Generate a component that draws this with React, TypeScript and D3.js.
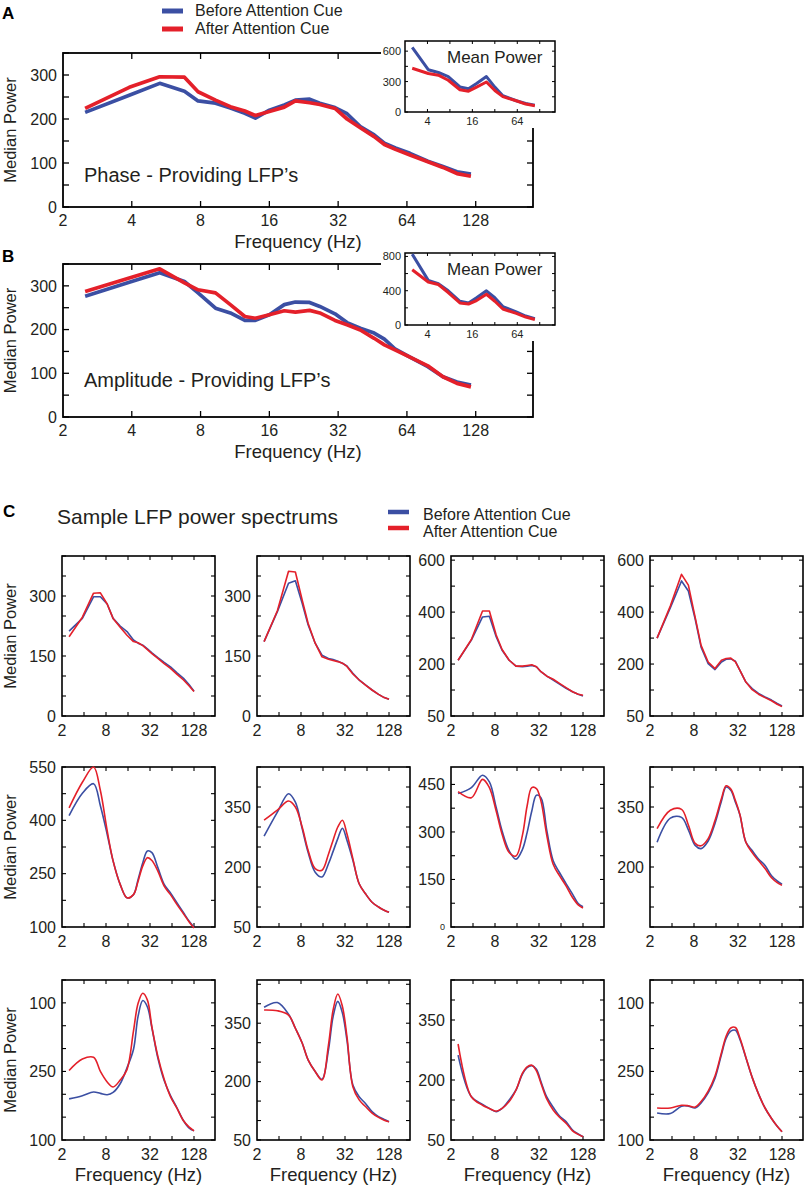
import React from 'react';
import * as d3 from 'd3';

const BLUE = '#3b4fa3';
const RED = '#e4202a';
const INK = '#231f20';
const FONT = '"Liberation Sans", Arial, Helvetica, sans-serif';

// ---------- Panels A / B (median power) ----------
const mainFreqs = [2.5, 3.9, 5.3, 6.8, 7.8, 9.3, 10.8, 12.5, 13.9, 16, 18.6, 20.8, 24, 26.6, 31, 35, 40, 46, 51, 57, 66, 79, 92, 106, 122];
const phaseBefore = [215, 254, 281, 263, 241, 236, 225, 213, 202, 220, 232, 243, 245, 236, 226, 212, 183, 164, 145, 134, 122, 104, 92, 80, 75];
const phaseAfter = [224, 272, 296, 295, 262, 243, 228, 218, 208, 217, 227, 241, 237, 233, 224, 200, 180, 160, 142, 131, 118, 103, 90, 76, 70];
const ampBefore = [276, 308, 330, 310, 284, 249, 238, 221, 221, 234, 257, 263, 262, 253, 236, 216, 203, 192, 178, 155, 137, 115, 92, 80, 73];
const ampAfter = [287, 318, 339, 307, 291, 284, 257, 230, 226, 234, 243, 240, 244, 238, 221, 211, 199, 180, 165, 153, 137, 117, 92, 77, 69];

// insets (mean power)
const insetFreqs = [2.5, 4.1, 5.6, 7.6, 10.9, 14.2, 18.2, 24.7, 32, 41, 62, 83, 110];
const phaseMeanBefore = [638, 417, 390, 349, 247, 230, 281, 349, 245, 161, 111, 84, 68];
const phaseMeanAfter = [431, 380, 363, 313, 219, 205, 245, 296, 212, 151, 111, 78, 61];
const ampMeanBefore = [827, 521, 481, 399, 277, 257, 318, 399, 318, 215, 154, 105, 73];
const ampMeanAfter = [644, 502, 472, 379, 257, 245, 285, 359, 277, 187, 135, 93, 65];

const mainTicksX = [2, 4, 8, 16, 32, 64, 128];
const mainTicksY = [0, 100, 200, 300];
const insetTicksX = [4, 16, 64];
const insetTicksYA = [0, 300, 600];
const insetTicksYB = [0, 400, 800];

// ---------- Panel C (sample spectra) ----------
const smallFreqs = [2.5, 3.8, 5.4, 6.7, 8.3, 10, 12.5, 15.5, 19, 22, 25.5, 29.5, 34, 41, 50, 61, 75, 92, 110, 128];
const sampleBefore: number[][] = [
  [212, 244, 298, 298, 280, 244, 225, 211, 190, 182, 177, 168, 158, 146, 134, 123, 108, 94, 78, 62],
  [186, 261, 332, 338, 282, 228, 182, 152, 144, 141, 137, 132, 125, 107, 90, 78, 65, 54, 46, 42],
  [211, 269, 336, 338, 279, 240, 211, 194, 192, 194, 196, 192, 178, 165, 154, 142, 130, 120, 113, 108],
  [275, 363, 440, 411, 330, 249, 201, 184, 206, 214, 215, 208, 182, 148, 129, 115, 105, 96, 86, 79],
  [413, 476, 503, 441, 361, 286, 220, 182, 191, 234, 281, 314, 309, 267, 220, 196, 168, 140, 116, 99],
  [277, 337, 383, 362, 296, 237, 187, 175, 208, 239, 271, 297, 267, 217, 158, 133, 112, 100, 92, 87],
  [421, 440, 479, 458, 377, 303, 240, 214, 245, 298, 366, 416, 408, 303, 209, 172, 137, 104, 74, 64],
  [262, 322, 324, 293, 254, 246, 265, 309, 365, 400, 392, 362, 330, 262, 241, 220, 204, 178, 165, 157],
  [190, 197, 205, 202, 199, 204, 223, 258, 298, 371, 405, 391, 345, 279, 230, 197, 170, 142, 126, 120],
  [391, 403, 373, 337, 299, 256, 226, 206, 281, 367, 406, 376, 307, 191, 161, 144, 123, 110, 103, 97],
  [262, 158, 139, 129, 121, 129, 150, 175, 215, 231, 236, 227, 196, 157, 132, 110, 96, 75, 65, 58],
  [159, 158, 174, 174, 170, 181, 203, 235, 287, 322, 338, 340, 320, 280, 237, 201, 170, 147, 130, 118],
];
const sampleAfter: number[][] = [
  [198, 247, 307, 308, 280, 244, 222, 202, 186, 183, 176, 166, 156, 144, 131, 119, 104, 90, 75, 61],
  [186, 263, 362, 360, 290, 232, 182, 148, 142, 139, 136, 132, 124, 105, 90, 77, 65, 54, 46, 42],
  [211, 271, 353, 353, 284, 242, 211, 194, 194, 196, 198, 192, 178, 165, 156, 144, 132, 120, 113, 110],
  [275, 368, 459, 428, 335, 254, 206, 187, 211, 216, 217, 206, 182, 148, 126, 113, 103, 94, 84, 77],
  [435, 507, 550, 484, 371, 286, 220, 182, 191, 229, 272, 295, 287, 257, 215, 191, 163, 137, 114, 97],
  [317, 342, 365, 350, 300, 242, 196, 192, 232, 267, 300, 317, 283, 221, 158, 133, 112, 100, 92, 87],
  [427, 408, 466, 440, 366, 293, 235, 224, 290, 382, 440, 437, 398, 288, 198, 162, 130, 93, 70, 60],
  [296, 342, 344, 305, 259, 253, 271, 316, 371, 403, 395, 366, 331, 262, 236, 216, 196, 173, 161, 154],
  [252, 277, 281, 250, 227, 216, 231, 254, 338, 399, 421, 406, 347, 283, 233, 195, 169, 142, 128, 120],
  [384, 382, 371, 337, 299, 256, 226, 204, 294, 384, 425, 393, 316, 187, 153, 136, 119, 108, 101, 97],
  [290, 158, 137, 129, 122, 129, 146, 175, 217, 233, 237, 223, 192, 152, 125, 107, 92, 73, 64, 58],
  [170, 170, 176, 175, 172, 184, 207, 240, 291, 327, 345, 346, 323, 281, 237, 201, 170, 147, 130, 118],
];
const sampleYDomains: [number, number][] = [
  [0, 400], [0, 400], [50, 512], [50, 512],
  [100, 550], [50, 450], [0, 505], [50, 450],
  [100, 450], [50, 461], [50, 450], [100, 450],
];
const sampleYTicks: number[][] = [
  [0, 150, 300], [0, 150, 300], [50, 200, 350, 500], [50, 200, 350, 500],
  [100, 250, 400, 550], [50, 200, 350], [0, 150, 300, 450], [200, 350],
  [100, 250, 400], [50, 200, 350], [50, 200, 350], [100, 250, 400],
];
const sampleYLabels: string[][] = [
  ['0', '150', '300'], ['0', '150', '300'], ['50', '200', '400', '600'], ['50', '200', '400', '600'],
  ['100', '250', '400', '550'], ['50', '200', '350'], ['0', '150', '300', '450'], ['200', '350'],
  ['100', '250', '100'], ['50', '200', '350'], ['50', '200', '350'], ['100', '250', '100'],
];
const sampleYMinor = [50, 50, 75, 75, 75, 50, 75, 50, 50, 50, 50, 50];
const smallTicksX = [2, 8, 32, 128];
const octaveTicks = [4, 8, 16, 32, 64, 128];

// ---------- layout ----------
const colLeft = [62, 257, 451, 650];
const rowTop = [556, 767, 980];
const SW = 153;
const SH = 160;

function minorTicks(domain: [number, number], first: number, step: number) {
  const start = first - Math.floor((first - domain[0]) / step + 1e-9) * step;
  return d3.range(start, domain[1] + 1e-6, step);
}

type MainProps = {
  top: number; bottom: number; before: number[]; after: number[];
  meanBefore: number[]; meanAfter: number[];
  insetTop: number; insetBottom: number; insetMax: number; insetTicks: number[];
  label: string; labelY: number;
};

function MainPanel(p: MainProps) {
  const L = 63, R = 533;
  const x = d3.scaleLog().base(2).domain([2, 228]).range([L, R]);
  const y = d3.scaleLinear().domain([0, 350]).range([p.bottom, p.top]);
  const ix = d3.scaleLog().base(2).domain([2, 205]).range([405, 555]);
  const iy = d3.scaleLinear().domain([0, p.insetMax]).range([p.insetBottom, p.insetTop]);
  const line = d3.line<number>().x((_, i) => x(mainFreqs[i])).y((v) => y(v));
  const iline = d3.line<number>().x((_, i) => ix(insetFreqs[i])).y((v) => iy(v));
  const yMinor = d3.range(0, 351, 50);
  const iyMinor = d3.range(0, p.insetMax + 1, p.insetTicks[1] / 2);
  const mid = (p.top + p.bottom) / 2;
  return (
    <g>
      <rect x={L} y={p.top} width={R - L} height={p.bottom - p.top} fill="none" stroke="#000" strokeWidth={1.8} />
      {yMinor.map((v) => (
        <g key={'y' + v}>
          <line x1={L} x2={L + 6} y1={y(v)} y2={y(v)} stroke="#000" strokeWidth={1.3} />
          <line x1={R - 6} x2={R} y1={y(v)} y2={y(v)} stroke="#000" strokeWidth={1.3} />
        </g>
      ))}
      {octaveTicks.map((f) => (
        <g key={'x' + f}>
          <line x1={x(f)} x2={x(f)} y1={p.bottom} y2={p.bottom - 6} stroke="#000" strokeWidth={1.3} />
          <line x1={x(f)} x2={x(f)} y1={p.top} y2={p.top + 6} stroke="#000" strokeWidth={1.3} />
        </g>
      ))}
      {mainTicksY.map((v) => (
        <text key={'yl' + v} x={L - 6} y={y(v)} dy="0.36em" textAnchor="end" fontSize={16} fill={INK}>{v}</text>
      ))}
      {mainTicksX.map((f) => (
        <text key={'xl' + f} x={x(f)} y={p.bottom + 19} textAnchor="middle" fontSize={16} fill={INK}>{f}</text>
      ))}
      <text x={298} y={p.bottom + 41} textAnchor="middle" fontSize={18.5} fill={INK}>Frequency (Hz)</text>
      <text transform={`translate(16,${mid}) rotate(-90)`} textAnchor="middle" fontSize={16.5} fill={INK}>Median Power</text>

      {/* white area behind the inset hides the main frame corner */}
      <rect x={381} y={p.insetTop - 14} width={190} height={p.insetBottom - p.insetTop + 30} fill="#fff" />

      <path d={line(p.before) || ''} fill="none" stroke={BLUE} strokeWidth={3.7} strokeLinejoin="round" />
      <path d={line(p.after) || ''} fill="none" stroke={RED} strokeWidth={3.7} strokeLinejoin="round" />
      <text x={84} y={p.labelY} fontSize={20} fill={INK}>{p.label}</text>

      {/* inset */}
      <rect x={405} y={p.insetTop} width={150} height={p.insetBottom - p.insetTop} fill="#fff" stroke="#000" strokeWidth={1.5} />
      {octaveTicks.map((f) => (
        <g key={'ix' + f}>
          <line x1={ix(f)} x2={ix(f)} y1={p.insetBottom} y2={p.insetBottom - 3} stroke="#000" strokeWidth={1} />
          <line x1={ix(f)} x2={ix(f)} y1={p.insetTop} y2={p.insetTop + 3} stroke="#000" strokeWidth={1} />
        </g>
      ))}
      {iyMinor.map((v) => (
        <g key={'iy' + v}>
          <line x1={405} x2={408} y1={iy(v)} y2={iy(v)} stroke="#000" strokeWidth={1} />
          <line x1={552} x2={555} y1={iy(v)} y2={iy(v)} stroke="#000" strokeWidth={1} />
        </g>
      ))}
      {p.insetTicks.map((v) => (
        <text key={'iyl' + v} x={401} y={iy(v)} dy="0.36em" textAnchor="end" fontSize={11} fill={INK}>{v}</text>
      ))}
      {insetTicksX.map((f) => (
        <text key={'ixl' + f} x={ix(f)} y={p.insetBottom + 13} textAnchor="middle" fontSize={11} fill={INK}>{f}</text>
      ))}
      <path d={iline(p.meanBefore) || ''} fill="none" stroke={BLUE} strokeWidth={3} strokeLinejoin="round" />
      <path d={iline(p.meanAfter) || ''} fill="none" stroke={RED} strokeWidth={3} strokeLinejoin="round" />
      <text x={447} y={p.insetTop + 22} fontSize={17} fill={INK}>Mean Power</text>
    </g>
  );
}

function SamplePlot({ idx }: { idx: number }) {
  const col = idx % 4;
  const row = Math.floor(idx / 4);
  const L = colLeft[col];
  const T = rowTop[row];
  const B = T + SH;
  const R = L + SW;
  const dom = sampleYDomains[idx];
  const x = d3.scaleLog().base(2).domain([2, 248]).range([L, R]);
  const y = d3.scaleLinear().domain(dom).range([B, T]);
  const line = d3.line<number>()
    .x((_, i) => x(smallFreqs[i]))
    .y((v) => y(v))
    .curve(row === 0 ? d3.curveLinear : d3.curveCatmullRom.alpha(0.5));
  const minors = minorTicks(dom, sampleYTicks[idx][0], sampleYMinor[idx]);
  return (
    <g>
      <rect x={L} y={T} width={SW} height={SH} fill="none" stroke="#000" strokeWidth={1.6} />
      {minors.map((v) => (
        <g key={'m' + v}>
          <line x1={L} x2={L + 4} y1={y(v)} y2={y(v)} stroke="#000" strokeWidth={1.1} />
          <line x1={R - 4} x2={R} y1={y(v)} y2={y(v)} stroke="#000" strokeWidth={1.1} />
        </g>
      ))}
      {octaveTicks.map((f) => (
        <g key={'o' + f}>
          <line x1={x(f)} x2={x(f)} y1={B} y2={B - 4} stroke="#000" strokeWidth={1.1} />
          <line x1={x(f)} x2={x(f)} y1={T} y2={T + 4} stroke="#000" strokeWidth={1.1} />
        </g>
      ))}
      {sampleYTicks[idx].map((v, i) => {
        const tiny = idx === 6 && i === 0;
        return (
          <text key={'yl' + i} x={L - 6} y={y(v)} dy="0.36em" textAnchor="end" fontSize={tiny ? 9 : 16} fill={INK}>
            {sampleYLabels[idx][i]}
          </text>
        );
      })}
      {smallTicksX.map((f) => (
        <text key={'xl' + f} x={x(f)} y={B + 20} textAnchor="middle" fontSize={16} fill={INK}>{f}</text>
      ))}
      <path d={line(sampleBefore[idx]) || ''} fill="none" stroke={BLUE} strokeWidth={1.6} strokeLinejoin="round" />
      <path d={line(sampleAfter[idx]) || ''} fill="none" stroke={RED} strokeWidth={1.6} strokeLinejoin="round" />
      {row === 2 && (
        <text x={L + SW / 2} y={1181} textAnchor="middle" fontSize={18.5} fill={INK}>Frequency (Hz)</text>
      )}
      {col === 0 && (
        <text transform={`translate(16,${T + SH / 2}) rotate(-90)`} textAnchor="middle" fontSize={16.5} fill={INK}>Median Power</text>
      )}
    </g>
  );
}

export default function App() {
  return (
    <div style={{ position: 'absolute', left: 0, top: 0 }}>
      <svg width={805} height={1188} style={{ display: 'block', background: '#fff' }} fontFamily={FONT}>
        {/* Panel A legend */}
        <text x={2} y={19} fontSize={17} fontWeight="bold" fill="#000">A</text>
        <line x1={162} x2={183} y1={11} y2={11} stroke={BLUE} strokeWidth={5} />
        <text x={195} y={16} fontSize={16} fill={INK}>Before Attention Cue</text>
        <line x1={162} x2={183} y1={29} y2={29} stroke={RED} strokeWidth={5} />
        <text x={195} y={34} fontSize={16} fill={INK}>After Attention Cue</text>

        <MainPanel top={53} bottom={207} before={phaseBefore} after={phaseAfter}
          meanBefore={phaseMeanBefore} meanAfter={phaseMeanAfter}
          insetTop={41} insetBottom={112} insetMax={700} insetTicks={insetTicksYA}
          label="Phase - Providing LFP’s" labelY={182} />

        <text x={2} y={262} fontSize={17} fontWeight="bold" fill="#000">B</text>
        <MainPanel top={264} bottom={417} before={ampBefore} after={ampAfter}
          meanBefore={ampMeanBefore} meanAfter={ampMeanAfter}
          insetTop={253} insetBottom={325} insetMax={840} insetTicks={insetTicksYB}
          label="Amplitude - Providing LFP’s" labelY={387} />

        {/* Panel C */}
        <text x={3} y={517} fontSize={17} fontWeight="bold" fill="#000">C</text>
        <text x={57} y={524} fontSize={21} fill={INK}>Sample LFP power spectrums</text>
        <line x1={388} x2={409} y1={512} y2={512} stroke={BLUE} strokeWidth={4.5} />
        <text x={423} y={520} fontSize={16} fill={INK}>Before Attention Cue</text>
        <line x1={388} x2={409} y1={528} y2={528} stroke={RED} strokeWidth={4.5} />
        <text x={423} y={537} fontSize={16} fill={INK}>After Attention Cue</text>

        {d3.range(12).map((i) => <SamplePlot key={i} idx={i} />)}
      </svg>
    </div>
  );
}
